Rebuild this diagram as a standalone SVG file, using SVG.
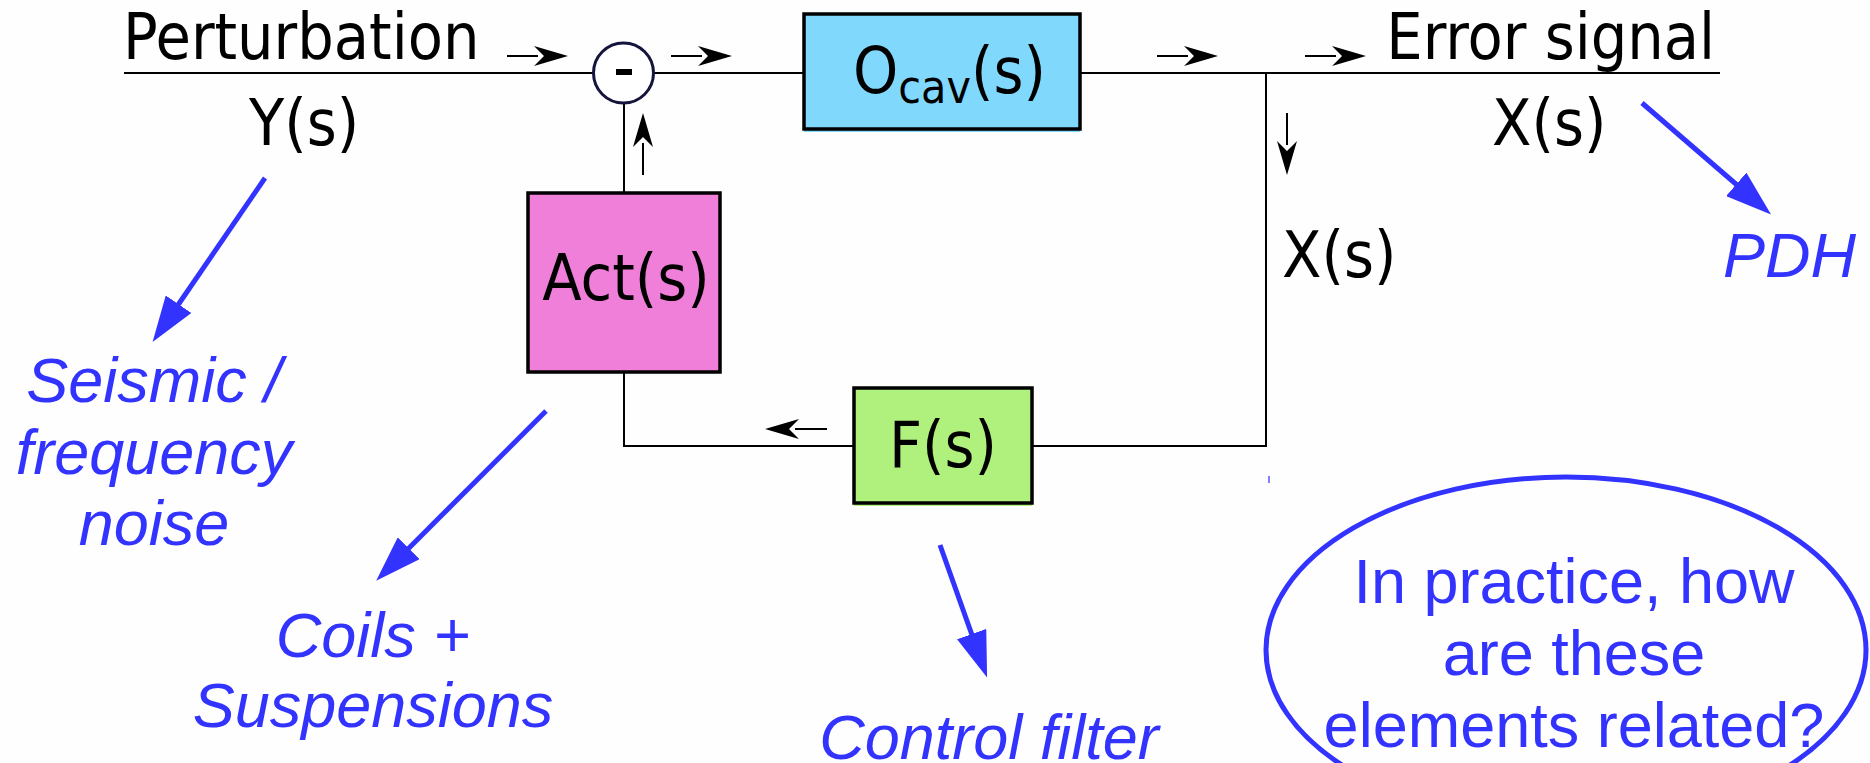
<svg xmlns="http://www.w3.org/2000/svg" width="1870" height="763" viewBox="0 0 1870 763">
<style>
.blk{font-family:"DejaVu Sans Condensed","DejaVu Sans",sans-serif;font-stretch:condensed;font-size:64px;fill:#000}
.note{font-family:"Liberation Sans",Arial,sans-serif;font-style:italic;font-size:63px;fill:#3333ff}
.q{font-family:"Liberation Sans",Arial,sans-serif;font-size:63px;fill:#3333ff}
.wire{fill:none;stroke:#000;stroke-width:2}
.sig{fill:none;stroke:#000;stroke-width:2}
.box{stroke:#000;stroke-width:3.5}
.blue{fill:none;stroke:#3333ff;stroke-width:5}
</style>
<defs>
<marker id="ba" markerUnits="userSpaceOnUse" viewBox="0 0 34 20" markerWidth="34" markerHeight="20" refX="4" refY="10" orient="auto">
<path d="M34,10 L0,0 L10,10 L0,20 Z" fill="#000"/>
</marker>
<marker id="bl" markerUnits="userSpaceOnUse" viewBox="0 0 46 31" markerWidth="46" markerHeight="31" refX="1" refY="15.5" orient="auto">
<path d="M0,0 L46,15.5 L0,31 Z" fill="#3333ff"/>
</marker>
</defs>
<rect width="1870" height="763" fill="#fefefe"/>

<g id="connectors">
<line class="wire" x1="124" y1="73" x2="593" y2="73"/>
<line class="wire" x1="654" y1="73" x2="804" y2="73"/>
<line class="wire" x1="1080" y1="73" x2="1720" y2="73"/>
<polyline class="wire" points="1266,73 1266,446 1032,446"/>
<polyline class="wire" points="853,446 624,446 624,372"/>
<line class="wire" x1="624" y1="192" x2="624" y2="103"/>
<line class="sig" x1="507" y1="56" x2="538" y2="56" marker-end="url(#ba)"/>
<line class="sig" x1="671" y1="56" x2="702" y2="56" marker-end="url(#ba)"/>
<line class="sig" x1="1157" y1="56" x2="1188" y2="56" marker-end="url(#ba)"/>
<line class="sig" x1="1305" y1="56" x2="1336" y2="56" marker-end="url(#ba)"/>
<line class="sig" x1="1287" y1="113" x2="1287" y2="145" marker-end="url(#ba)"/>
<line class="sig" x1="643" y1="175" x2="643" y2="143" marker-end="url(#ba)"/>
<line class="sig" x1="827" y1="429" x2="795" y2="429" marker-end="url(#ba)"/>
<line x1="1269" y1="476" x2="1269" y2="483" stroke="#8080ff" stroke-width="2"/>
</g>

<g id="sum">
<circle cx="623.5" cy="73" r="30" fill="#fff" stroke="#14143c" stroke-width="3"/>
<rect x="616" y="69" width="16" height="6" fill="#000"/>
</g>

<g id="ocav">
<rect x="804" y="17" width="276" height="115" fill="#80d9fc"/>
<rect class="box" x="804" y="14" width="276" height="115" fill="#80d9fc"/>
<text class="blk" x="853" y="93">O<tspan font-size="46" dy="10">cav</tspan><tspan dy="-10">(s)</tspan></text>
</g>

<g id="act">
<rect class="box" x="528" y="193" width="192" height="179" fill="#ef7fd8"/>
<text class="blk" x="626" y="300" text-anchor="middle">Act(s)</text>
</g>

<g id="filter">
<rect x="854" y="391" width="178" height="115" fill="#b0f07c"/>
<rect class="box" x="854" y="388" width="178" height="115" fill="#b0f07c"/>
<text class="blk" x="943" y="467" text-anchor="middle">F(s)</text>
</g>

<g id="labels">
<text class="blk" x="123" y="59">Perturbation</text>
<text class="blk" x="249" y="145">Y(s)</text>
<text class="blk" x="1715" y="59" text-anchor="end">Error signal</text>
<text class="blk" x="1492" y="145">X(s)</text>
<text class="blk" x="1282" y="277">X(s)</text>
</g>

<g id="annotations">
<line class="blue" x1="265" y1="178" x2="178" y2="305" marker-end="url(#bl)"/>
<line class="blue" x1="546" y1="411" x2="408" y2="549" marker-end="url(#bl)"/>
<line class="blue" x1="940" y1="545" x2="972" y2="635" marker-end="url(#bl)"/>
<line class="blue" x1="1642" y1="103" x2="1737" y2="185" marker-end="url(#bl)"/>
<text class="note" text-anchor="middle" x="154" y="402">Seismic /</text>
<text class="note" text-anchor="middle" x="154" y="474">frequency</text>
<text class="note" text-anchor="middle" x="154" y="545">noise</text>
<text class="note" text-anchor="middle" x="373" y="657">Coils +</text>
<text class="note" text-anchor="middle" x="373" y="727">Suspensions</text>
<text class="note" text-anchor="middle" x="989" y="759">Control filter</text>
<text class="note" x="1723" y="277">PDH</text>
</g>

<g id="question">
<ellipse cx="1566" cy="650" rx="300" ry="173" fill="none" stroke="#3333ff" stroke-width="5"/>
<text class="q" text-anchor="middle" x="1574" y="603">In practice, how</text>
<text class="q" text-anchor="middle" x="1574" y="675">are these</text>
<text class="q" text-anchor="middle" x="1574" y="747">elements related?</text>
</g>
</svg>
